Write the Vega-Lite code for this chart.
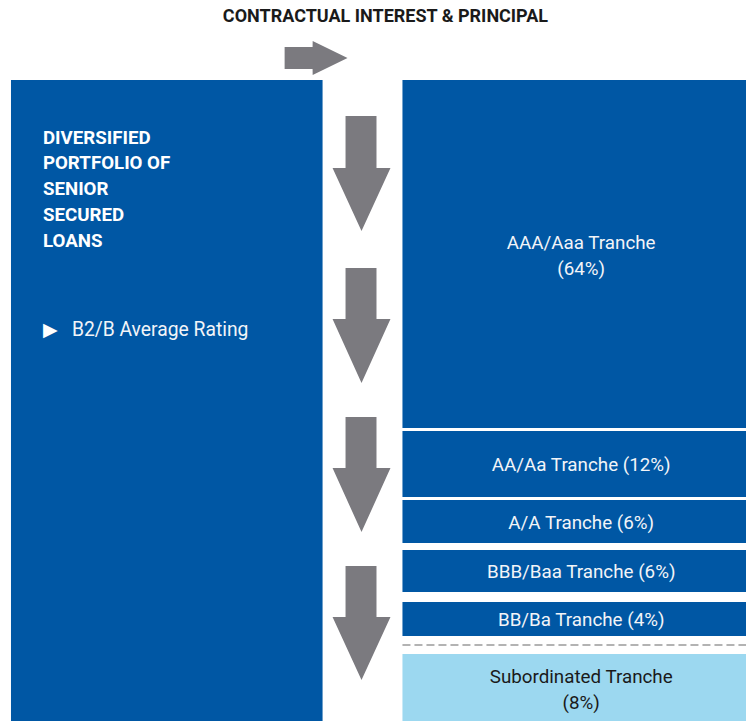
{
  "$schema": "https://vega.github.io/schema/vega-lite/v6.json",
  "width": 747,
  "height": 721,
  "autosize": {"type": "fit", "contains": "padding"},
  "padding": 0,
  "background": "white",
  "config": {"view": {"stroke": null}},
  "datasets": {
    "boxes": [
      {"name": "Diversified portfolio", "kind": "portfolio", "x0": 11, "x1": 323, "y0": 80, "y1": 721},
      {"name": "AAA/Aaa", "kind": "senior", "x0": 403, "x1": 747, "y0": 80, "y1": 428},
      {"name": "AA/Aa", "kind": "senior", "x0": 403, "x1": 747, "y0": 431, "y1": 497},
      {"name": "A/A", "kind": "senior", "x0": 403, "x1": 747, "y0": 500, "y1": 543},
      {"name": "BBB/Baa", "kind": "senior", "x0": 403, "x1": 747, "y0": 550, "y1": 592},
      {"name": "BB/Ba", "kind": "senior", "x0": 403, "x1": 747, "y0": 602, "y1": 636},
      {"name": "Subordinated", "kind": "subordinated", "x0": 403, "x1": 747, "y0": 654, "y1": 721}
    ],
    "downArrows": [
      {"arrow": 1, "y": 116, "xl": 346, "xr": 377},
      {"arrow": 1, "y": 168, "xl": 346, "xr": 377},
      {"arrow": 1, "y": 168.1, "xl": 333, "xr": 391},
      {"arrow": 1, "y": 231, "xl": 362, "xr": 362},
      {"arrow": 2, "y": 268, "xl": 346, "xr": 377},
      {"arrow": 2, "y": 319, "xl": 346, "xr": 377},
      {"arrow": 2, "y": 319.1, "xl": 333, "xr": 391},
      {"arrow": 2, "y": 383, "xl": 362, "xr": 362},
      {"arrow": 3, "y": 417, "xl": 346, "xr": 377},
      {"arrow": 3, "y": 468, "xl": 346, "xr": 377},
      {"arrow": 3, "y": 468.1, "xl": 333, "xr": 391},
      {"arrow": 3, "y": 532, "xl": 362, "xr": 362},
      {"arrow": 4, "y": 566, "xl": 346, "xr": 377},
      {"arrow": 4, "y": 617, "xl": 346, "xr": 377},
      {"arrow": 4, "y": 617.1, "xl": 333, "xr": 391},
      {"arrow": 4, "y": 680, "xl": 362, "xr": 362}
    ],
    "rightArrow": [
      {"x": 285, "yt": 47, "yb": 69},
      {"x": 313, "yt": 47, "yb": 69},
      {"x": 313.1, "yt": 41, "yb": 75},
      {"x": 348, "yt": 58, "yb": 58}
    ],
    "divider": [{"x0": 403, "x1": 747, "y": 645}],
    "title": [{"text": "CONTRACTUAL INTEREST & PRINCIPAL", "x": 386, "y": 17}],
    "portfolioLines": [
      {"text": "DIVERSIFIED", "x": 43, "y": 137.5},
      {"text": "PORTFOLIO OF", "x": 43, "y": 162.5},
      {"text": "SENIOR", "x": 43, "y": 188.5},
      {"text": "SECURED", "x": 43, "y": 214.5},
      {"text": "LOANS", "x": 43, "y": 240.5}
    ],
    "bullet": [{"text": "▶", "x": 43, "y": 330}],
    "rating": [{"text": "B2/B Average Rating", "x": 72, "y": 330}],
    "trancheLabels": [
      {"text": "AAA/Aaa Tranche", "x": 582, "y": 242.5},
      {"text": "(64%)", "x": 582, "y": 268.5},
      {"text": "AA/Aa Tranche (12%)", "x": 582, "y": 464.5},
      {"text": "A/A Tranche (6%)", "x": 582, "y": 522.5},
      {"text": "BBB/Baa Tranche (6%)", "x": 582, "y": 571.5},
      {"text": "BB/Ba Tranche (4%)", "x": 582, "y": 619.5}
    ],
    "subLabels": [
      {"text": "Subordinated Tranche", "x": 582, "y": 676.5},
      {"text": "(8%)", "x": 582, "y": 702.5}
    ]
  },
  "layer": [
    {
      "data": {"name": "boxes"},
      "mark": {"type": "rect"},
      "encoding": {
        "x": {"field": "x0", "type": "quantitative", "scale": {"domain": [0, 747], "nice": false, "zero": false}, "axis": null},
        "x2": {"field": "x1"},
        "y": {"field": "y0", "type": "quantitative", "scale": {"domain": [0, 721], "nice": false, "zero": false, "reverse": true}, "axis": null},
        "y2": {"field": "y1"},
        "color": {"field": "kind", "type": "nominal", "scale": {"domain": ["portfolio", "senior", "subordinated"], "range": ["#0057A4", "#0057A4", "#9CD8F0"]}, "legend": null}
      }
    },
    {
      "data": {"name": "downArrows"},
      "mark": {"type": "area", "orient": "horizontal", "color": "#7B7A7F"},
      "encoding": {
        "y": {"field": "y", "type": "quantitative"},
        "x": {"field": "xl", "type": "quantitative"},
        "x2": {"field": "xr"},
        "detail": {"field": "arrow", "type": "nominal"}
      }
    },
    {
      "data": {"name": "rightArrow"},
      "mark": {"type": "area", "orient": "vertical", "color": "#7B7A7F"},
      "encoding": {
        "x": {"field": "x", "type": "quantitative"},
        "y": {"field": "yt", "type": "quantitative"},
        "y2": {"field": "yb"}
      }
    },
    {
      "data": {"name": "divider"},
      "mark": {"type": "rule", "color": "#B3B3B3", "strokeWidth": 2, "strokeDash": [8, 4]},
      "encoding": {
        "x": {"field": "x0", "type": "quantitative"},
        "x2": {"field": "x1"},
        "y": {"field": "y", "type": "quantitative"}
      }
    },
    {
      "data": {"name": "title"},
      "mark": {"type": "text", "font": "Roboto", "fontWeight": "bold", "fontSize": 18, "color": "#1A1A1A", "align": "center", "baseline": "middle"},
      "encoding": {
        "x": {"field": "x", "type": "quantitative"},
        "y": {"field": "y", "type": "quantitative"},
        "text": {"field": "text"}
      }
    },
    {
      "data": {"name": "portfolioLines"},
      "mark": {"type": "text", "font": "Roboto", "fontWeight": "bold", "fontSize": 18.7, "color": "white", "align": "left", "baseline": "middle"},
      "encoding": {
        "x": {"field": "x", "type": "quantitative"},
        "y": {"field": "y", "type": "quantitative"},
        "text": {"field": "text"}
      }
    },
    {
      "data": {"name": "bullet"},
      "mark": {"type": "text", "font": "DejaVu Sans", "fontSize": 19, "color": "white", "align": "left", "baseline": "middle"},
      "encoding": {
        "x": {"field": "x", "type": "quantitative"},
        "y": {"field": "y", "type": "quantitative"},
        "text": {"field": "text"}
      }
    },
    {
      "data": {"name": "rating"},
      "mark": {"type": "text", "font": "Roboto", "fontSize": 19.3, "color": "#F2F4F8", "align": "left", "baseline": "middle"},
      "encoding": {
        "x": {"field": "x", "type": "quantitative"},
        "y": {"field": "y", "type": "quantitative"},
        "text": {"field": "text"}
      }
    },
    {
      "data": {"name": "trancheLabels"},
      "mark": {"type": "text", "font": "Roboto", "fontSize": 18.8, "color": "#F2F4F8", "align": "center", "baseline": "middle"},
      "encoding": {
        "x": {"field": "x", "type": "quantitative"},
        "y": {"field": "y", "type": "quantitative"},
        "text": {"field": "text"}
      }
    },
    {
      "data": {"name": "subLabels"},
      "mark": {"type": "text", "font": "Roboto", "fontSize": 18.8, "color": "#1A1A1A", "align": "center", "baseline": "middle"},
      "encoding": {
        "x": {"field": "x", "type": "quantitative"},
        "y": {"field": "y", "type": "quantitative"},
        "text": {"field": "text"}
      }
    }
  ]
}
